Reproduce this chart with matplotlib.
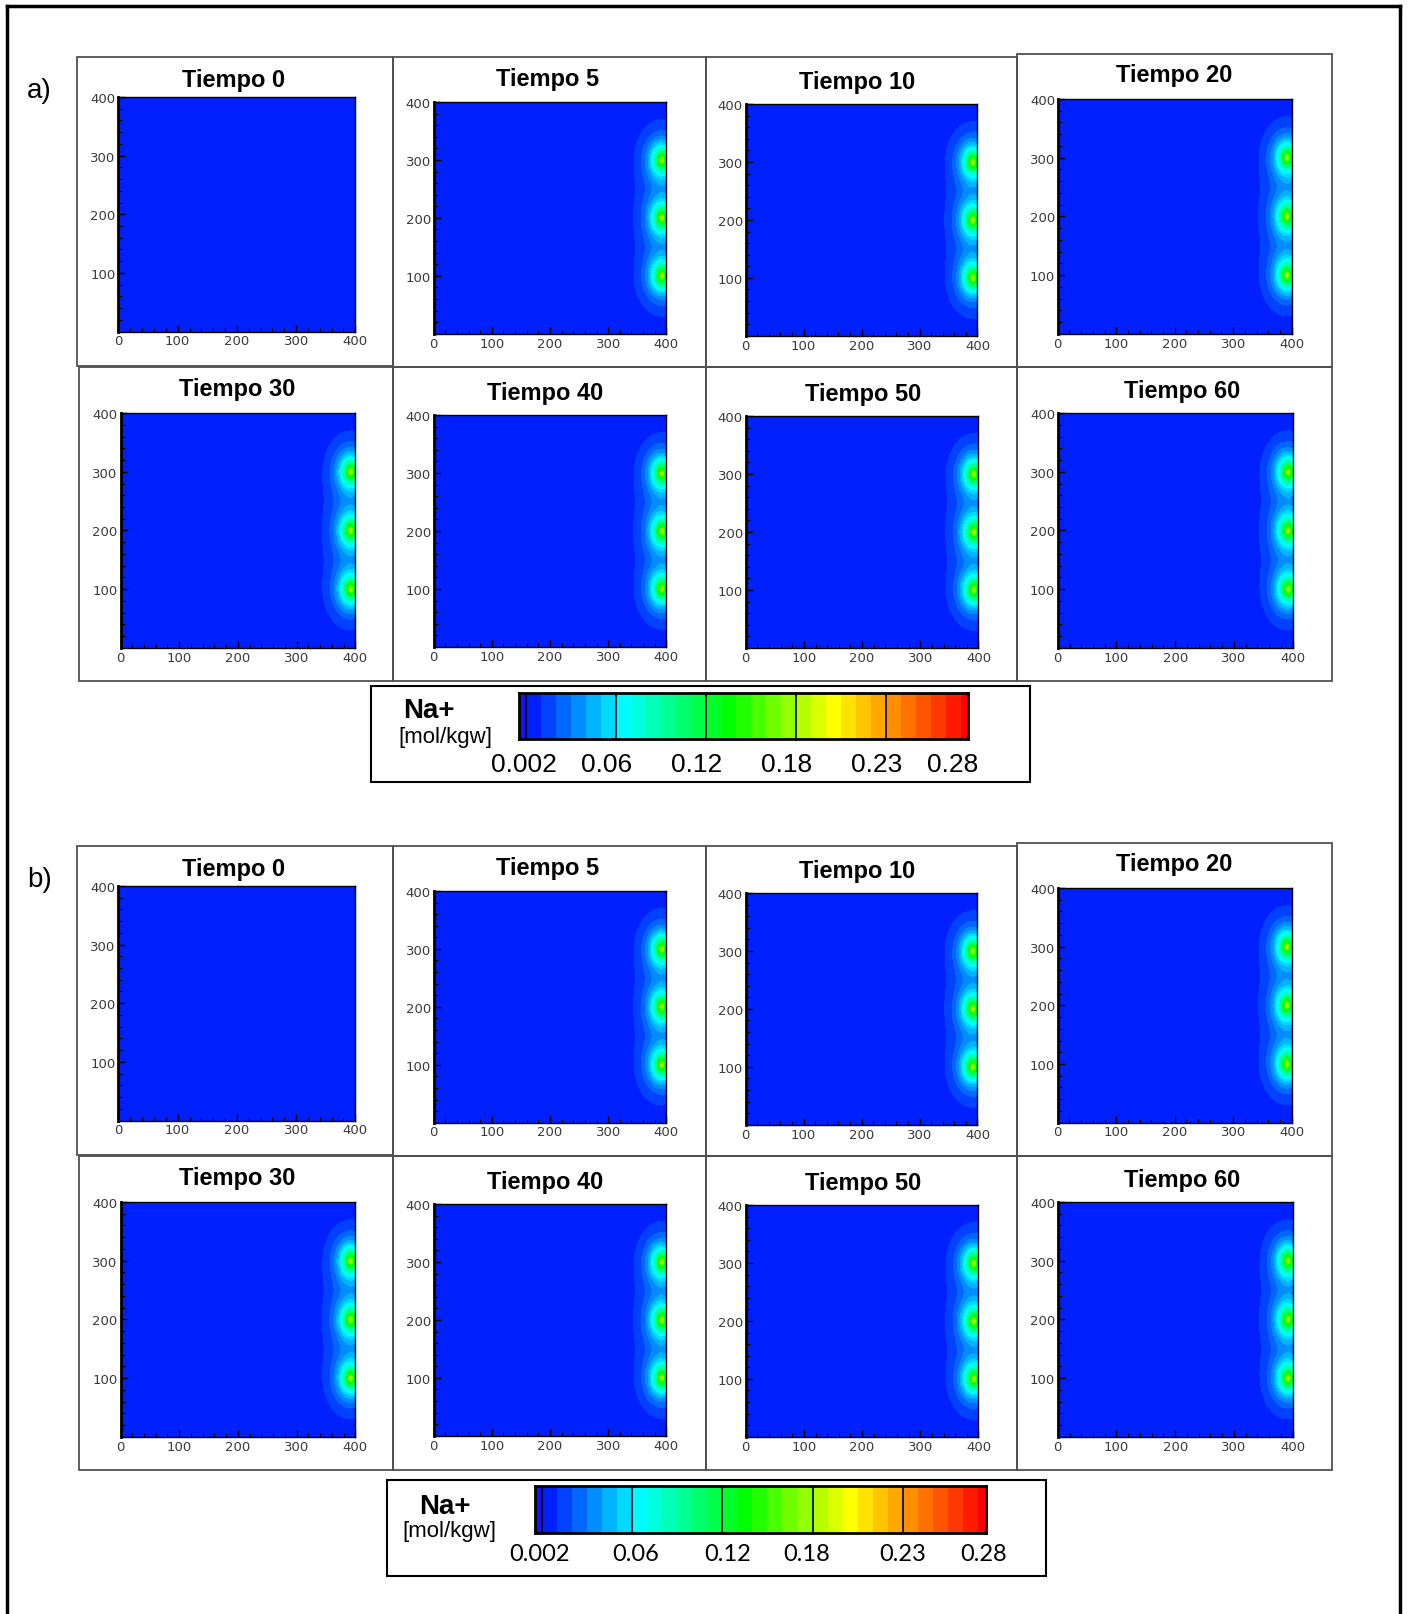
import numpy as np
import matplotlib.pyplot as plt
from matplotlib.colors import LinearSegmentedColormap
from matplotlib.patches import Rectangle
from matplotlib.lines import Line2D
from matplotlib.ticker import MultipleLocator

# Tiempos simulados y pozos de inyección (m)
tiempos = [0, 5, 10, 20, 30, 40, 50, 60]
pozo_x = 392
pozos_y = [100, 200, 300]
fondo = 0.005  # concentración inicial de Na+ [mol/kgw]

# Caso a): concentración máxima en el pozo y alcance de la pluma (m)
pico_a = [0.0, 0.19, 0.19, 0.19, 0.19, 0.19, 0.19, 0.19]
alcance_x_a = [14, 14, 14, 14, 14, 14, 14, 14]
alcance_y_a = [21, 21, 21, 21, 21, 21, 21, 21]

# Caso b)
pico_b = [0.0, 0.19, 0.19, 0.19, 0.19, 0.19, 0.19, 0.19]
alcance_x_b = [14, 14, 14, 14, 14, 14, 14, 14]
alcance_y_b = [21, 21, 21, 21, 21, 21, 21, 21]

# Escala de colores
niveles = np.round(np.arange(0.002, 0.3021, 0.01), 3)
etiquetas_barra = ["0.002", "0.06", "0.12", "0.18", "0.23", "0.28"]
valores_barra = [0.002, 0.06, 0.12, 0.18, 0.23, 0.28]
separadores = [0.002, 0.062, 0.122, 0.182, 0.242]

mapa = LinearSegmentedColormap.from_list(
    "na", [(0, "#0020ff"), (6 / 29, "#00ffff"), (13 / 29, "#00ff00"),
           (20 / 29, "#ffff00"), (1, "#ff0000")])
colores = [mapa(i / 29) for i in range(30)]

xs = np.linspace(0, 400, 101)
X, Y = np.meshgrid(xs, xs)


def campo(pico, lx, ly):
    c = np.full_like(X, fondo)
    for yp in pozos_y:
        r = np.sqrt(((X - pozo_x) / lx) ** 2 + ((Y - yp) / ly) ** 2)
        c += pico * np.exp(-r)
    return c


W, H = 1368, 1568
fig = plt.figure(figsize=(14.09, 16.15), dpi=100)


def caja(x0, y0, x1, y1):
    return [x0 / W, 1 - y1 / H, (x1 - x0) / W, (y1 - y0) / H]


# marco exterior
for xx, yy in [([6.8, 6.8], [1700, 6.8]), ([6.8, 1359], [6.8, 6.8]), ([1359, 1359], [6.8, 1700])]:
    fig.add_artist(Line2D([x / W for x in xx], [1 - y / H for y in yy], color="black", lw=2.5))

marcos = [(75, 56, 382, 356), (382, 56, 685, 357), (685, 56, 987, 357), (987, 53, 1293, 357),
          (77, 357, 382, 662), (382, 357, 685, 662), (685, 357, 987, 662), (987, 357, 1293, 662)]
areas = [(115, 95, 345, 323), (421, 100, 647, 325), (724, 102, 949, 327), (1027, 97, 1254, 325),
         (117, 402, 345, 630), (421, 404, 647, 629), (724, 405, 950, 630), (1027, 402, 1255, 630)]
titulos = [(227, 78), (532, 77), (832, 80), (1140, 73),
           (230, 378), (529, 382), (838, 383), (1148, 380)]

casos = [("a)", 0, pico_a, alcance_x_a, alcance_y_a),
         ("b)", 766, pico_b, alcance_x_b, alcance_y_b)]

for letra, dy, picos, lxs, lys in casos:
    fig.text(38 / W, 1 - (88 + dy) / H, letra, fontsize=20, family="Liberation Sans",
             ha="center", va="center")
    for i, t in enumerate(tiempos):
        x0, y0, x1, y1 = marcos[i]
        fig.add_artist(Rectangle((x0 / W, 1 - (y1 + dy) / H), (x1 - x0) / W, (y1 - y0) / H,
                                 transform=fig.transFigure, fill=False,
                                 edgecolor="#505050", lw=1.3))
        ax0, ay0, ax1, ay1 = areas[i]
        ax = fig.add_axes(caja(ax0, ay0 + dy, ax1, ay1 + dy))
        c = campo(picos[i], lxs[i], lys[i])
        ax.contourf(X, Y, c, levels=niveles, colors=colores)
        ax.set_xlim(0, 400)
        ax.set_ylim(0, 400)
        ax.set_xticks([0, 100, 200, 300, 400])
        ax.set_yticks([100, 200, 300, 400])
        ax.xaxis.set_minor_locator(MultipleLocator(20))
        ax.yaxis.set_minor_locator(MultipleLocator(20))
        ax.tick_params(which="major", direction="in", length=5, width=1,
                       labelsize=9.5, labelcolor="#3a3a3a", pad=2)
        ax.tick_params(which="minor", direction="in", length=3, width=0.8)
        for lado in ["top", "right", "bottom"]:
            ax.spines[lado].set_linewidth(1.0)
        ax.spines["left"].set_linewidth(2.0)
        tx, ty = titulos[i]
        fig.text(tx / W, 1 - (ty + dy) / H, f"Tiempo {t}", fontsize=17, fontweight="bold",
                 family="Liberation Sans", ha="center", va="center")


def barra(caja_ext, caja_barra, pos_na, pos_unid, y_etiq, desplaz, fuente, tam):
    x0, y0, x1, y1 = caja_ext
    fig.add_artist(Rectangle((x0 / W, 1 - y1 / H), (x1 - x0) / W, (y1 - y0) / H,
                             transform=fig.transFigure, fill=False, edgecolor="black", lw=1.5))
    cax = fig.add_axes(caja(*caja_barra))
    bordes = np.concatenate([[-0.0027], niveles])
    for k in range(len(bordes) - 1):
        color = "#1414f0" if k == 0 else colores[k - 1]
        cax.axvspan(bordes[k], bordes[k + 1], color=color, lw=0)
    for s in separadores:
        cax.axvline(s, color="black", lw=1.2)
    cax.set_xlim(-0.0027, 0.297)
    cax.set_ylim(0, 1)
    cax.set_yticks([])
    cax.set_xticks([])
    for sp in cax.spines.values():
        sp.set_linewidth(2)
    bx0, _, bx1, _ = caja_barra
    for v, e, d in zip(valores_barra, etiquetas_barra, desplaz):
        xf = (v + 0.0027) / 0.2997
        xs_ = bx0 + xf * (bx1 - bx0) + d
        fig.text(xs_ / W, 1 - y_etiq / H, e, fontsize=tam, family=fuente,
                 ha="center", va="center")
    fig.text(pos_na[0] / W, 1 - pos_na[1] / H, "Na+", fontsize=20, fontweight="bold",
             family="Liberation Sans", ha="center", va="center")
    fig.text(pos_unid[0] / W, 1 - pos_unid[1] / H, "[mol/kgw]", fontsize=16,
             family="Liberation Sans", ha="center", va="center")


barra((360, 667, 1000, 760), (504, 674, 940, 718), (416, 690), (432, 716), 743,
      [-2, -6, -6, -6, 9, 10], "Liberation Sans", 19)
barra((376, 1438, 1016, 1531), (519, 1444, 957, 1489), (432, 1463), (436, 1487), 1509,
      [-2, 7, 8, -3, 17, 23], "Lato", 17)

fig.savefig("out.png", dpi=100)
